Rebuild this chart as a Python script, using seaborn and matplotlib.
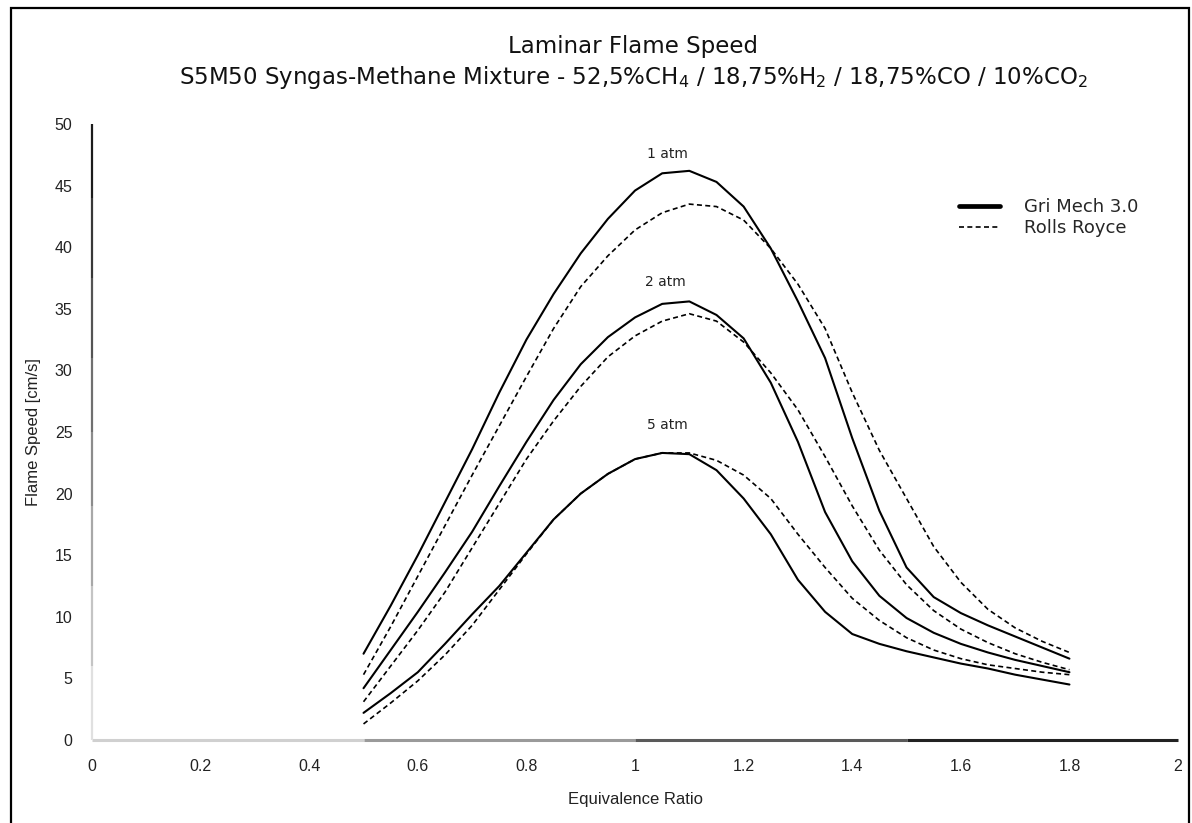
import numpy as np
import pandas as pd
import matplotlib
matplotlib.use("Agg")
import matplotlib.pyplot as plt
from matplotlib.lines import Line2D
from matplotlib.patches import Rectangle
import seaborn as sns

# Equivalence ratio grid
phi = [0.50, 0.55, 0.60, 0.65, 0.70, 0.75, 0.80, 0.85, 0.90, 0.95,
       1.00, 1.05, 1.10, 1.15, 1.20, 1.25, 1.30, 1.35, 1.40, 1.45,
       1.50, 1.55, 1.60, 1.65, 1.70, 1.75, 1.80]

# Laminar flame speed [cm/s], Gri Mech 3.0
gri_1atm = [7.0, 10.9, 15.0, 19.3, 23.6, 28.2, 32.5, 36.2, 39.5, 42.3,
            44.6, 46.0, 46.2, 45.3, 43.3, 39.9, 35.6, 31.0, 24.5, 18.6,
            14.0, 11.6, 10.3, 9.3, 8.4, 7.5, 6.6]
gri_2atm = [4.2, 7.3, 10.4, 13.6, 16.9, 20.6, 24.2, 27.6, 30.5, 32.7,
            34.3, 35.4, 35.6, 34.5, 32.6, 29.0, 24.2, 18.5, 14.5, 11.7,
            9.9, 8.7, 7.8, 7.1, 6.5, 6.0, 5.5]
gri_5atm = [2.2, 3.8, 5.5, 7.8, 10.2, 12.5, 15.2, 17.9, 20.0, 21.6,
            22.8, 23.3, 23.2, 21.9, 19.6, 16.7, 13.0, 10.4, 8.6, 7.8,
            7.2, 6.7, 6.2, 5.8, 5.3, 4.9, 4.5]

# Laminar flame speed [cm/s], Rolls Royce
rr_1atm = [5.3, 9.2, 13.3, 17.4, 21.5, 25.5, 29.5, 33.4, 36.8, 39.3,
           41.4, 42.8, 43.5, 43.3, 42.2, 39.9, 37.0, 33.4, 28.2, 23.5,
           19.6, 15.7, 12.8, 10.6, 9.1, 8.0, 7.1]
rr_2atm = [3.1, 6.0, 8.9, 12.0, 15.6, 19.2, 22.8, 25.9, 28.7, 31.1,
           32.8, 34.0, 34.6, 34.0, 32.3, 29.8, 26.8, 23.0, 19.0, 15.4,
           12.6, 10.5, 9.0, 7.9, 7.0, 6.3, 5.7]
rr_5atm = [1.3, 3.0, 4.8, 6.9, 9.3, 12.2, 15.1, 17.9, 20.0, 21.6,
           22.8, 23.3, 23.3, 22.7, 21.5, 19.6, 16.7, 14.0, 11.5, 9.7,
           8.3, 7.3, 6.6, 6.1, 5.8, 5.5, 5.3]

models = ["Gri Mech 3.0", "Rolls Royce"]
pressures = ["1 atm", "2 atm", "5 atm"]
series = {
    ("Gri Mech 3.0", "1 atm"): gri_1atm,
    ("Gri Mech 3.0", "2 atm"): gri_2atm,
    ("Gri Mech 3.0", "5 atm"): gri_5atm,
    ("Rolls Royce", "1 atm"): rr_1atm,
    ("Rolls Royce", "2 atm"): rr_2atm,
    ("Rolls Royce", "5 atm"): rr_5atm,
}
label_pos = {"1 atm": (1.06, 47.6), "2 atm": (1.055, 37.2), "5 atm": (1.06, 25.6)}

rows = []
for (model, p), vals in series.items():
    for x, y in zip(phi, vals):
        rows.append({"phi": x, "speed": y, "model": model, "pressure": p})
df = pd.DataFrame(rows)

sns.set_style("white")
plt.rcParams["font.family"] = ["Liberation Sans", "DejaVu Sans"]
plt.rcParams["mathtext.fontset"] = "custom"
plt.rcParams["mathtext.rm"] = "DejaVu Sans"
plt.rcParams["mathtext.it"] = "DejaVu Sans"
wide = ["DejaVu Sans"]

fig = plt.figure(figsize=(11.92, 8.23), dpi=100)
ax = fig.add_axes([0.0772, 0.1009, 0.9111, 0.7484])

for model, ls, lw in [("Gri Mech 3.0", "-", 1.5), ("Rolls Royce", (0, (3, 2)), 1.2)]:
    sub = df[df["model"] == model]
    sns.lineplot(data=sub, x="phi", y="speed", units="pressure", estimator=None,
                 sort=False, color="black", linewidth=lw, linestyle=ls,
                 ax=ax, legend=False)
for ln in ax.get_lines():
    ln.set_solid_joinstyle("round")
    ln.set_dash_joinstyle("round")

ax.set_xlim(0, 2)
ax.set_ylim(0, 50)
ax.set_xticks(np.arange(0, 2.01, 0.2))
ax.set_xticklabels(["0", "0.2", "0.4", "0.6", "0.8", "1", "1.2", "1.4", "1.6", "1.8", "2"])
ax.set_yticks(np.arange(0, 51, 5))
ax.tick_params(axis="both", which="major", length=0, labelsize=11.5, colors="#222222")
ax.tick_params(axis="x", which="major", pad=14)
ax.tick_params(axis="y", which="major", pad=14)
ax.set_xticks([0.4, 0.6, 1.0, 1.8], minor=True)
ax.set_yticks([20, 40, 45], minor=True)
ax.tick_params(which="minor", direction="in", length=5, width=1.0, color="#333333")

ax.set_xlabel("Equivalence Ratio", fontsize=12, labelpad=13, color="#222222")
ax.set_ylabel("Flame Speed [cm/s]", fontsize=12, labelpad=10, color="#222222")

# Axis lines shaded in steps, light at the origin and dark at the far end
for s in ax.spines.values():
    s.set_visible(False)
x_steps = [(0.0, 0.5, "#d0d0d0"), (0.5, 1.0, "#9a9a9a"), (1.0, 1.5, "#5a5a5a"), (1.5, 2.0, "#222222")]
for x0, x1, c in x_steps:
    ax.plot([x0, x1], [0, 0], color=c, lw=2.2, clip_on=False, solid_capstyle="butt", zorder=3)
y_steps = [(0, 6, "#e0e0e0"), (6, 12.5, "#c4c4c4"), (12.5, 19, "#a8a8a8"), (19, 25, "#8c8c8c"),
           (25, 31, "#707070"), (31, 37.5, "#545454"), (37.5, 44, "#383838"), (44, 50, "#1c1c1c")]
for y0, y1, c in y_steps:
    ax.plot([0, 0], [y0, y1], color=c, lw=1.6, clip_on=False, solid_capstyle="butt", zorder=3)

for p, (x, y) in label_pos.items():
    ax.text(x, y, p, ha="center", va="center", fontsize=10, color="#222222", family=wide)

handles = [Line2D([], [], color="black", lw=3.4, ls="-"),
           Line2D([], [], color="black", lw=1.2, ls=(0, (3, 2)))]
ax.legend(handles, models, loc="upper left", bbox_to_anchor=(0.783, 0.906), frameon=False,
          prop={"family": wide, "size": 13}, handlelength=2.3, handletextpad=1.3,
          labelspacing=0.15)

fig.text(0.531, 0.943, "Laminar Flame Speed", ha="center", va="center", fontsize=16.5,
         color="#111111", family=wide)
fig.text(0.531, 0.906,
         "S5M50 Syngas-Methane Mixture - 52,5%CH$_4$ / 18,75%H$_2$ / 18,75%CO / 10%CO$_2$",
         ha="center", va="center", fontsize=16.5, color="#111111", family=wide)

# Outer frame
fig.add_artist(Rectangle((0.0092, -0.02), 0.9883, 1.0103, transform=fig.transFigure,
                         fill=False, edgecolor="black", lw=1.6))

fig.savefig("out.png", dpi=100, facecolor="white")
